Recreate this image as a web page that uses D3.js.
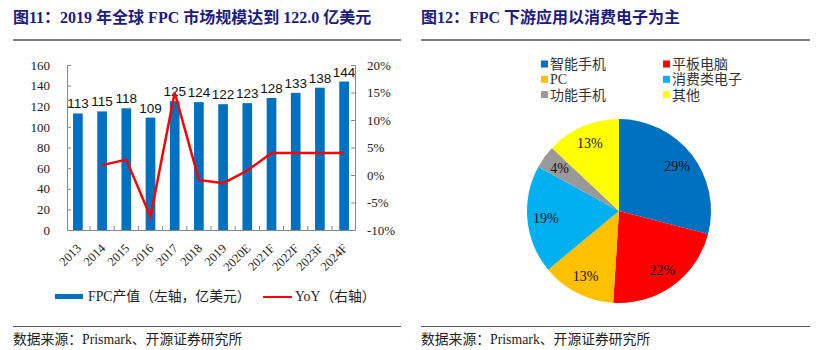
<!DOCTYPE html>
<html><head><meta charset="utf-8">
<script src="https://cdn.jsdelivr.net/npm/d3@7"></script>
<style>
body{margin:0;background:#fff;}
svg{display:block;}
</style></head>
<body>
<script>
// ---- data ----
const years = ["2013","2014","2015","2016","2017","2018","2019","2020E","2021F","2022F","2023F","2024F"];
const fpcValue = [113,115,118,109,125,124,122,123,128,133,138,144];
const yoy = [null,1.8,2.8,-7.6,15.0,-0.9,-1.5,0.8,4.0,4.0,4.0,4.0];
const leftTicks = [0,20,40,60,80,100,120,140,160];
const rightTicks = [-10,-5,0,5,10,15,20];
const pieCats = ["智能手机","平板电脑","PC","消费类电子","功能手机","其他"];
const pieValues = [29,22,13,19,4,13];
const pieColors = ["#0070C0","#FF0000","#FFC000","#00B0F0","#999999","#FFFF00"];
const title1 = "图11：2019 年全球 FPC 市场规模达到 122.0 亿美元";
const title2 = "图12：FPC 下游应用以消费电子为主";
const source = "数据来源：Prismark、开源证券研究所";
const legend1 = ["FPC产值（左轴，亿美元）","YoY（右轴）"];

const W=830,H=350;
const svg=d3.select("body").append("svg").attr("width",W).attr("height",H);
const serif='"Liberation Serif","Times New Roman","Noto Sans CJK SC",serif';
const sans='"Liberation Sans",Arial,"Noto Sans CJK SC",sans-serif';
const titleColor="#1c1c7e";

// ---- headers & footers ----
function frame(x0,x1,title){
  svg.append("text").attr("x",x0).attr("y",23).text(title)
    .attr("font-family",serif).attr("font-weight","bold").attr("font-size",16).attr("fill",titleColor);
  svg.append("line").attr("x1",x0).attr("x2",x1).attr("y1",40).attr("y2",40).attr("stroke","#555").attr("stroke-width",1.5);
  svg.append("line").attr("x1",x0).attr("x2",x1).attr("y1",326.5).attr("y2",326.5).attr("stroke","#555").attr("stroke-width",1.2);
  svg.append("text").attr("x",x0).attr("y",344).text(source)
    .attr("font-family",serif).attr("font-size",13.8).attr("fill","#222");
}
frame(13,401,title1);
frame(421,810,title2);

// ---- left chart ----
const x=d3.scaleBand().domain(years).range([67,355]).paddingInner(0.6).paddingOuter(0.25);
const yL=d3.scaleLinear().domain([0,160]).range([230,65]);
const yR=d3.scaleLinear().domain([-10,20]).range([230,65]);
const g=svg.append("g");

g.selectAll("rect.bar").data(fpcValue).join("rect").attr("class","bar")
  .attr("x",(d,i)=>x(years[i])).attr("width",x.bandwidth())
  .attr("y",d=>yL(d)).attr("height",d=>yL(0)-yL(d)).attr("fill","#0070C0");

g.selectAll("text.val").data(fpcValue).join("text").attr("class","val")
  .attr("x",(d,i)=>x(years[i])+x.bandwidth()/2).attr("y",d=>yL(d)-5)
  .attr("text-anchor","middle").attr("font-family",sans).attr("font-size",13.5).attr("fill","#111").text(d=>d);

// axes
const axL=g.append("g").attr("transform","translate(67,0)")
  .call(d3.axisLeft(yL).tickValues(leftTicks).tickSize(-4).tickPadding(17));
const axR=g.append("g").attr("transform","translate(355,0)")
  .call(d3.axisRight(yR).tickValues(rightTicks).tickSize(-4).tickPadding(12).tickFormat(d=>d+"%"));
[axL,axR].forEach(a=>{
  a.select(".domain").attr("stroke","#888");
  a.selectAll(".tick line").attr("stroke","#888");
  a.selectAll(".tick text").attr("font-family",serif).attr("font-size",13).attr("fill","#222");
});
// bottom axis
g.append("line").attr("x1",67).attr("x2",355).attr("y1",230.5).attr("y2",230.5).attr("stroke","#888");
const step=x.step();
g.selectAll("line.xt").data(years.slice(0,-1)).join("line").attr("class","xt")
  .attr("x1",d=>x(d)+x.bandwidth()+(step-x.bandwidth())/2).attr("x2",d=>x(d)+x.bandwidth()+(step-x.bandwidth())/2)
  .attr("y1",230).attr("y2",226).attr("stroke","#888");
g.selectAll("text.xl").data(years).join("text").attr("class","xl")
  .attr("transform",d=>`translate(${x(d)+x.bandwidth()/2+4},249) rotate(-45)`)
  .attr("text-anchor","end").attr("font-family",serif).attr("font-size",12.5).attr("fill","#222").text(d=>d);

// line
const line=d3.line().defined(d=>d.v!=null).x(d=>x(d.k)+x.bandwidth()/2).y(d=>yR(d.v));
g.append("path").datum(years.map((k,i)=>({k,v:yoy[i]})))
  .attr("d",line).attr("fill","none").attr("stroke","#FF0000").attr("stroke-width",2.5).attr("stroke-linejoin","miter");

// legend
g.append("rect").attr("x",55).attr("y",294).attr("width",28).attr("height",5).attr("fill","#0070C0");
g.append("text").attr("x",88).attr("y",301).text(legend1[0]).attr("font-family",serif).attr("font-size",13.8).attr("fill","#222");
g.append("line").attr("x1",263).attr("x2",292).attr("y1",297).attr("y2",297).attr("stroke","#FF0000").attr("stroke-width",2);
g.append("text").attr("x",295).attr("y",301).text(legend1[1]).attr("font-family",serif).attr("font-size",13.8).attr("fill","#222");

// ---- pie ----
const cx=619,cy=211,r=92;
const pie=d3.pie().sort(null).value(d=>d)(pieValues);
const arc=d3.arc().innerRadius(0).outerRadius(r);
const labArc=d3.arc().innerRadius(r*0.8).outerRadius(r*0.8);
const pg=svg.append("g").attr("transform",`translate(${cx},${cy})`);
pg.selectAll("path").data(pie).join("path").attr("d",arc).attr("fill",(d,i)=>pieColors[i]);
pg.selectAll("text").data(pie).join("text")
  .attr("transform",d=>`translate(${labArc.centroid(d)})`)
  .attr("text-anchor","middle").attr("dy","0.35em")
  .attr("font-family",serif).attr("font-size",14).attr("fill","#111").text(d=>d.data+"%");

// pie legend
const lg=svg.append("g");
pieCats.forEach((c,i)=>{
  const col=i%2,row=Math.floor(i/2);
  const lx=col?663:541, ly=64+row*15.3;
  lg.append("rect").attr("x",lx).attr("y",ly-3.5).attr("width",7).attr("height",7).attr("fill",pieColors[i]);
  lg.append("text").attr("x",lx+9).attr("y",ly+5).text(c).attr("font-family",serif).attr("font-size",14).attr("fill","#333");
});
</script>
</body></html>
